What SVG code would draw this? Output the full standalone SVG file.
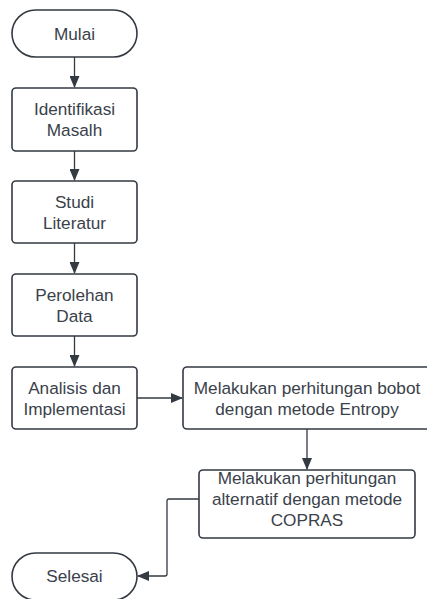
<svg xmlns="http://www.w3.org/2000/svg" width="427" height="599" viewBox="0 0 427 599">
<defs>
<style>
.n{fill:#fff;stroke:#333a42;stroke-width:1.6}
.t{font-family:"Liberation Sans",Arial,sans-serif;font-size:17.2px;fill:#3a414a;text-anchor:middle;dominant-baseline:central}
.c{fill:none;stroke:#333a42;stroke-width:1.3}
</style>
<marker id="ah" markerWidth="12" markerHeight="10" refX="11" refY="5" orient="auto" markerUnits="userSpaceOnUse">
<path d="M0,0 L12,5 L0,10 Z" fill="#333a42"/>
</marker>
</defs>
<rect width="427" height="599" fill="#fff"/>
<g id="connectors">
<path class="c" d="M74.5,57 V87" marker-end="url(#ah)"/>
<path class="c" d="M74.5,151 V180" marker-end="url(#ah)"/>
<path class="c" d="M74.5,243 V273" marker-end="url(#ah)"/>
<path class="c" d="M74.5,336 V366" marker-end="url(#ah)"/>
<path class="c" d="M137,398 H182" marker-end="url(#ah)"/>
<path class="c" d="M307,429 V469" marker-end="url(#ah)"/>
<path class="c" d="M199,499 H169 Q167,499 167,501 V574 Q167,576 165,576 H138" marker-end="url(#ah)"/>
</g>
<g id="mulai">
<rect class="n" x="12" y="10" width="125" height="47" rx="23.5"/>
<text class="t" x="74.5" y="33.5">Mulai</text>
</g>
<g id="identifikasi">
<rect class="n" x="12" y="88" width="125" height="63" rx="4"/>
<text class="t" x="74.5" y="109">Identifikasi</text>
<text class="t" x="74.5" y="130">Masalh</text>
</g>
<g id="studi">
<rect class="n" x="12" y="181" width="125" height="62" rx="4"/>
<text class="t" x="74.5" y="202">Studi</text>
<text class="t" x="74.5" y="223">Literatur</text>
</g>
<g id="perolehan">
<rect class="n" x="12" y="274" width="125" height="62" rx="4"/>
<text class="t" x="74.5" y="295">Perolehan</text>
<text class="t" x="74.5" y="316">Data</text>
</g>
<g id="analisis">
<rect class="n" x="12" y="367" width="125" height="62" rx="4"/>
<text class="t" x="74.5" y="388">Analisis dan</text>
<text class="t" x="74.5" y="409">Implementasi</text>
</g>
<g id="entropy">
<rect class="n" x="183" y="367" width="248" height="62" rx="4"/>
<text class="t" x="307" y="388">Melakukan perhitungan bobot</text>
<text class="t" x="307" y="409">dengan metode Entropy</text>
</g>
<g id="copras">
<rect class="n" x="199" y="470" width="216" height="68" rx="4"/>
<text class="t" x="307" y="478">Melakukan perhitungan</text>
<text class="t" x="307" y="499">alternatif dengan metode</text>
<text class="t" x="307" y="520">COPRAS</text>
</g>
<g id="selesai">
<rect class="n" x="12" y="553" width="125" height="47" rx="23.5"/>
<text class="t" x="74.5" y="576">Selesai</text>
</g>
</svg>
